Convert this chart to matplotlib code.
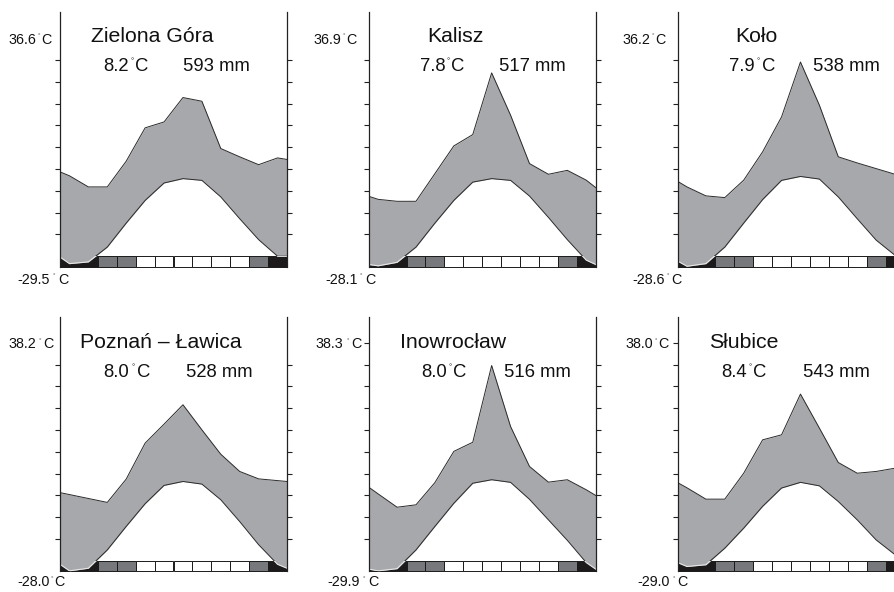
import numpy as np
import matplotlib
matplotlib.use("Agg")
import matplotlib.pyplot as plt
from matplotlib.patches import Rectangle
from matplotlib.ticker import FixedLocator

plt.rcParams["font.family"] = ["Liberation Sans", "DejaVu Sans"]

# Station summary values
stations = ["Zielona Góra", "Kalisz", "Koło", "Poznań – Ławica", "Inowrocław", "Słubice"]
t_mean = ["8.2", "7.8", "7.9", "8.0", "8.0", "8.4"]
p_total = ["593", "517", "538", "528", "516", "543"]
t_abs_max = ["36.6", "36.9", "36.2", "38.2", "38.3", "38.0"]
t_abs_min = ["-29.5", "-28.1", "-28.6", "-28.0", "-29.9", "-29.0"]

# Monthly mean temperature (deg C), Jan..Dec
temp_zg = [-1.7, -1.3, 2.1, 7.6, 12.8, 16.8, 17.8, 17.4, 13.6, 8.6, 3.8, 0.0]
temp_ka = [-2.2, -1.4, 2.1, 7.6, 12.8, 17.0, 17.8, 17.4, 13.8, 8.9, 3.8, -0.9]
temp_ko = [-2.3, -1.7, 2.1, 7.6, 13.0, 17.4, 18.3, 17.7, 13.6, 8.6, 3.7, 0.2]
temp_po = [-2.3, -1.7, 2.5, 7.9, 13.1, 17.3, 18.2, 17.6, 14.0, 9.0, 3.7, -0.8]
temp_in = [-2.3, -1.8, 2.5, 7.9, 13.2, 17.8, 18.6, 18.0, 14.1, 9.4, 4.7, -0.4]
temp_sl = [-1.3, -0.9, 2.9, 7.5, 12.5, 16.7, 18.0, 17.2, 13.6, 9.4, 4.8, 1.4]

# Monthly precipitation (mm), Jan..Dec
prec_zg = [36.9, 31.8, 31.8, 43.6, 58.9, 61.6, 72.8, 71.1, 49.4, 45.6, 42.0, 45.1]
prec_ka = [26.1, 25.2, 25.2, 37.9, 50.6, 55.8, 84.1, 64.7, 42.5, 37.6, 39.4, 34.9]
prec_ko = [31.8, 27.7, 26.9, 34.9, 47.9, 63.9, 89.1, 69.3, 45.6, 42.8, 40.2, 37.6]
prec_po = [30.4, 28.6, 26.8, 37.5, 54.0, 62.7, 71.6, 60.1, 48.9, 41.0, 37.6, 36.8]
prec_in = [30.7, 24.6, 25.7, 35.9, 50.2, 54.4, 89.6, 61.6, 43.3, 36.1, 37.2, 32.6]
prec_sl = [33.5, 28.3, 28.3, 40.2, 55.5, 57.8, 76.5, 60.9, 45.1, 40.2, 41.0, 42.5]

# values at the left / right frame edge
temp_edges = [(-0.2, 0.0), (-1.9, -1.9), (-1.1, 0.2), (-0.8, -1.7), (-1.9, -1.9), (-0.4, 1.4)]
prec_edges = [(38.7, 44.4), (27.5, 31.5), (34.4, 37.6), (31.3, 36.4), (33.8, 30.0), (35.9, 42.5)]

# frost bar: 2 = black, 1 = dark grey, 0 = white
frost = [2, 2, 1, 1, 0, 0, 0, 0, 0, 0, 1, 2]

temps = [temp_zg, temp_ka, temp_ko, temp_po, temp_in, temp_sl]
precs = [prec_zg, prec_ka, prec_ko, prec_po, prec_in, prec_sl]

# Layout (pixels)
W, H = 894, 592
col_x0 = [60, 368.7, 677.5]
bar_bottom = [266.7, 571.3]
px_per_unit = 4.36
ylo, yhi = -2.4, 56
title_base = [42.5, 347.5]
value_base = [71.0, 377.0]
top_base = [43.5, 348.0]
bot_base = [283.5, 586.3]
title_dx = [31, 58.5, 58.2, 20, 31.7, 31.3]
num_dx = [68.3, 77, 77.5, 69.3, 78, 69.2]
c_dx = [75, 82, 84.5, 76.7, 84.6, 75.8]
mm_dx = [122.7, 130.6, 135.2, 125.7, 135.3, 125.8]
top_dx = [-23.3, -27, -27.5, -23.3, -25.4, -24.8]
topc_dx = [-18.3, -22, -22.5, -16.7, -17, -19.2]
bot_dx = [-10, -11, -12.5, -10.7, -9.4, -7.5]
botc_dx = [-1.7, -3.7, -5.8, -5.7, -0.4, -0.2]
tick50 = [False, False, False, False, True, True]

fill_col = "#a7a8ab"
line_col = "#2a2a2a"
cell_cols = {0: "white", 1: "#77787b", 2: "#1c1a1b"}

fig = plt.figure(figsize=(W / 100, H / 100), dpi=100)


def ftext(x, y, s, size, ha="left"):
    fig.text(x / W, 1 - y / H, s, fontsize=size, ha=ha, va="baseline", color="#111111")


def deg_text(x_num_right, x_c_left, base, size_main, s_num, ha_size):
    # number, small raised degree sign, then C
    ftext(x_num_right, base, s_num, size_main, ha="right")
    cap = 0.716 * size_main * 100 / 72
    ftext((x_num_right + x_c_left) / 2, base - cap + 0.716 * ha_size * 100 / 72,
          "°", ha_size, ha="center")
    ftext(x_c_left, base, "C", size_main)


months = np.arange(12) + 0.5
xs = np.concatenate([[0], months, [12]])

for k in range(6):
    row, col = divmod(k, 3)
    x0 = col_x0[col]
    h_px = (yhi - ylo) * px_per_unit
    ax = fig.add_axes([x0 / W, 1 - bar_bottom[row] / H, 227 / W, h_px / H])
    ax.set_xlim(0, 12)
    ax.set_ylim(ylo, yhi)

    T = np.concatenate([[temp_edges[k][0]], temps[k], [temp_edges[k][1]]])
    # precipitation drawn at 20 mm = 10 deg C
    P = np.concatenate([[prec_edges[k][0]], precs[k], [prec_edges[k][1]]]) / 2.0

    for i, c in enumerate(frost):
        ax.add_patch(Rectangle((i, ylo), 1, -ylo, facecolor=cell_cols[c],
                               edgecolor="#1a1a1a", lw=0.7, zorder=1, clip_on=False))

    ax.fill_between(xs, T, P, color=fill_col, lw=0, zorder=2)
    ax.plot(xs, P, color=line_col, lw=0.7, zorder=3)
    above = Rectangle((0, 0), 12, yhi, transform=ax.transData)
    below = Rectangle((0, ylo), 12, -ylo, transform=ax.transData)
    l1, = ax.plot(xs, T, color=line_col, lw=0.7, zorder=3)
    l1.set_clip_path(above)
    l2, = ax.plot(xs, T, color="#e8e8e8", lw=0.8, zorder=3)
    l2.set_clip_path(below)

    for s in ["top", "bottom"]:
        ax.spines[s].set_visible(False)
    for s in ["left", "right"]:
        ax.spines[s].set_color("#222222")
        ax.spines[s].set_linewidth(0.9)
        ax.spines[s].set_zorder(4)
    ax.set_xticks([])
    ax.set_yticks(np.arange(5, 50, 5))
    ax.tick_params(axis="y", which="major", left=True, right=True, direction="out",
                   length=3.3, width=0.8, color="#222222", labelleft=False)
    if tick50[k]:
        ax.yaxis.set_minor_locator(FixedLocator([50]))
        ax.tick_params(axis="y", which="minor", left=True, right=False, direction="out",
                       length=3.3, width=0.8, color="#222222", labelleft=False)
    ax.patch.set_alpha(0)

    # texts
    ftext(x0 + title_dx[k], title_base[row], stations[k], 15.3)
    deg_text(x0 + num_dx[k], x0 + c_dx[k], value_base[row], 13.3, t_mean[k], 5.5)
    ftext(x0 + mm_dx[k], value_base[row], p_total[k] + " mm", 13.3)
    deg_text(x0 + top_dx[k], x0 + topc_dx[k], top_base[row], 10.3, t_abs_max[k], 4.5)
    deg_text(x0 + bot_dx[k], x0 + botc_dx[k], bot_base[row], 10.3, t_abs_min[k], 4.5)

fig.savefig("out.png", dpi=100)
